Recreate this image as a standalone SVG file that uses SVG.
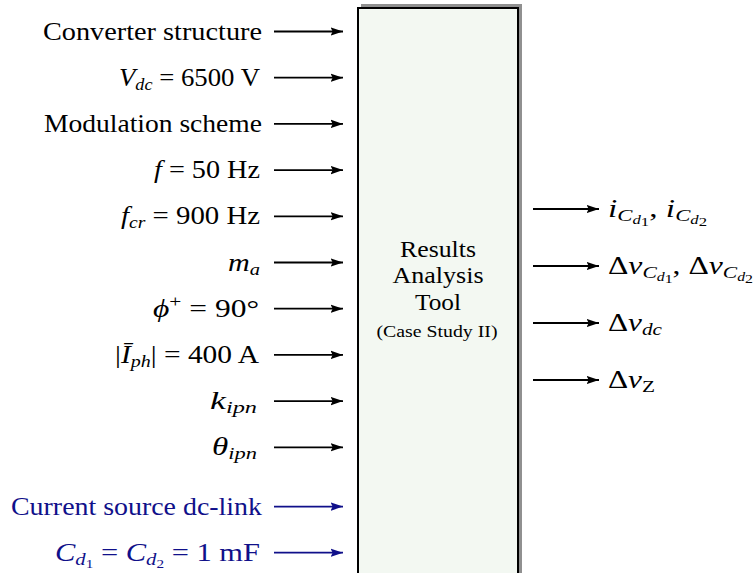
<svg xmlns="http://www.w3.org/2000/svg" width="754" height="573" viewBox="0 0 754 573">
<style>
.t{font-family:"Liberation Serif","Times New Roman",serif;font-size:25px;fill:#000}
.b{fill:#10108a}
.i{font-style:italic}
.s{font-size:17px}
.ss{font-size:12.5px}
.bx{font-family:"Liberation Serif","Times New Roman",serif;font-size:23px;text-anchor:middle;fill:#000}
.sm{font-size:16px}
.c{stroke:#000;stroke-width:1.8;fill:none;marker-end:url(#ah)}
.cb{stroke:#10108a;stroke-width:1.8;fill:none;marker-end:url(#ahb)}
</style>
<defs>
<marker id="ah" markerUnits="userSpaceOnUse" markerWidth="13" markerHeight="10" viewBox="0 0 13 10" refX="12.5" refY="5" orient="auto"><path d="M0,0.8 L12.5,5 L0,9.2 L2.2,5 z" fill="#000"/></marker>
<marker id="ahb" markerUnits="userSpaceOnUse" markerWidth="13" markerHeight="10" viewBox="0 0 13 10" refX="12.5" refY="5" orient="auto"><path d="M0,0.8 L12.5,5 L0,9.2 L2.2,5 z" fill="#10108a"/></marker>
</defs>

<g id="tool">
<rect x="361" y="4" width="161" height="600" fill="#909090"/>
<rect x="358" y="8" width="160" height="600" fill="#f3f8f2" stroke="#000" stroke-width="2"/>
<text class="bx" x="438" y="257" textLength="76" lengthAdjust="spacingAndGlyphs">Results</text>
<text class="bx" x="438" y="283" textLength="91" lengthAdjust="spacingAndGlyphs">Analysis</text>
<text class="bx" x="438" y="310" textLength="46" lengthAdjust="spacingAndGlyphs">Tool</text>
<text class="bx sm" x="437" y="337" textLength="121" lengthAdjust="spacingAndGlyphs">(Case Study II)</text>
</g>

<g id="connectors">
<line class="c" x1="274" y1="31.5" x2="343" y2="31.5"/>
<line class="c" x1="274" y1="77.7" x2="343" y2="77.7"/>
<line class="c" x1="274" y1="123.9" x2="343" y2="123.9"/>
<line class="c" x1="274" y1="170.1" x2="343" y2="170.1"/>
<line class="c" x1="274" y1="216.3" x2="343" y2="216.3"/>
<line class="c" x1="274" y1="262.5" x2="343" y2="262.5"/>
<line class="c" x1="274" y1="308.7" x2="343" y2="308.7"/>
<line class="c" x1="274" y1="354.9" x2="343" y2="354.9"/>
<line class="c" x1="274" y1="401.1" x2="343" y2="401.1"/>
<line class="c" x1="274" y1="447.3" x2="343" y2="447.3"/>
<line class="cb" x1="274" y1="506.6" x2="343" y2="506.6"/>
<line class="cb" x1="274" y1="552.7" x2="343" y2="552.7"/>
<line class="c" x1="533" y1="209" x2="599" y2="209"/>
<line class="c" x1="533" y1="266" x2="599" y2="266"/>
<line class="c" x1="533" y1="323" x2="599" y2="323"/>
<line class="c" x1="533" y1="380" x2="599" y2="380"/>
</g>

<g id="in1"><text class="t" x="262" y="39.5" text-anchor="end" textLength="219" lengthAdjust="spacingAndGlyphs">Converter structure</text></g>
<g id="in2"><text class="t" x="260" y="85.7" text-anchor="end" textLength="141" lengthAdjust="spacingAndGlyphs"><tspan class="i">V</tspan><tspan class="i s" dy="4">dc</tspan><tspan dy="-4"> = 6500 V</tspan></text></g>
<g id="in3"><text class="t" x="262" y="131.9" text-anchor="end" textLength="218" lengthAdjust="spacingAndGlyphs">Modulation scheme</text></g>
<g id="in4"><text class="t" x="260" y="178.1" text-anchor="end" textLength="106" lengthAdjust="spacingAndGlyphs"><tspan class="i">f</tspan> = 50 Hz</text></g>
<g id="in5"><text class="t" x="260" y="224.3" text-anchor="end" textLength="139" lengthAdjust="spacingAndGlyphs"><tspan class="i">f</tspan><tspan class="i s" dy="4">cr</tspan><tspan dy="-4"> = 900 Hz</tspan></text></g>
<g id="in6"><text class="t" x="260" y="270.5" text-anchor="end" textLength="32" lengthAdjust="spacingAndGlyphs"><tspan class="i">m</tspan><tspan class="i s" dy="4">a</tspan></text></g>
<g id="in7"><text class="t" x="259" y="316.7" text-anchor="end" textLength="106" lengthAdjust="spacingAndGlyphs"><tspan class="i">ϕ</tspan><tspan class="s" dy="-10">+</tspan><tspan dy="10"> = 90°</tspan></text></g>
<g id="in8"><text class="t" x="259" y="362.9" text-anchor="end" textLength="144" lengthAdjust="spacingAndGlyphs">|<tspan class="i">Ī</tspan><tspan class="i s" dy="4">ph</tspan><tspan dy="-4">| = 400 A</tspan></text></g>
<g id="in9"><text class="t" x="257" y="409.1" text-anchor="end" textLength="47" lengthAdjust="spacingAndGlyphs"><tspan class="i">k</tspan><tspan class="i s" dy="4">ipn</tspan></text></g>
<g id="in10"><text class="t" x="257" y="455.3" text-anchor="end" textLength="45" lengthAdjust="spacingAndGlyphs"><tspan class="i">θ</tspan><tspan class="i s" dy="4">ipn</tspan></text></g>
<g id="in11"><text class="t b" x="262" y="514.6" text-anchor="end" textLength="251" lengthAdjust="spacingAndGlyphs">Current source dc-link</text></g>
<g id="in12"><text class="t b" x="260" y="560.7" text-anchor="end" textLength="205" lengthAdjust="spacingAndGlyphs"><tspan class="i">C</tspan><tspan class="i s" dy="4">d</tspan><tspan class="ss" dy="3">1</tspan><tspan dy="-7"> = </tspan><tspan class="i">C</tspan><tspan class="i s" dy="4">d</tspan><tspan class="ss" dy="3">2</tspan><tspan dy="-7"> = 1 mF</tspan></text></g>

<g id="out1"><text class="t" x="608" y="217" textLength="99" lengthAdjust="spacingAndGlyphs"><tspan class="i">i</tspan><tspan class="i s" dy="4">C</tspan><tspan class="i ss" dy="3">d</tspan><tspan class="ss" dy="2">1</tspan><tspan dy="-9">, </tspan><tspan class="i">i</tspan><tspan class="i s" dy="4">C</tspan><tspan class="i ss" dy="3">d</tspan><tspan class="ss" dy="2">2</tspan></text></g>
<g id="out2"><text class="t" x="608" y="274" textLength="145" lengthAdjust="spacingAndGlyphs">Δ<tspan class="i">v</tspan><tspan class="i s" dy="4">C</tspan><tspan class="i ss" dy="3">d</tspan><tspan class="ss" dy="2">1</tspan><tspan dy="-9">, Δ</tspan><tspan class="i">v</tspan><tspan class="i s" dy="4">C</tspan><tspan class="i ss" dy="3">d</tspan><tspan class="ss" dy="2">2</tspan></text></g>
<g id="out3"><text class="t" x="608" y="331" textLength="54" lengthAdjust="spacingAndGlyphs">Δ<tspan class="i">v</tspan><tspan class="i s" dy="4">dc</tspan></text></g>
<g id="out4"><text class="t" x="608" y="388" textLength="47" lengthAdjust="spacingAndGlyphs">Δ<tspan class="i">v</tspan><tspan class="s" dy="4">Z</tspan></text></g>
</svg>
